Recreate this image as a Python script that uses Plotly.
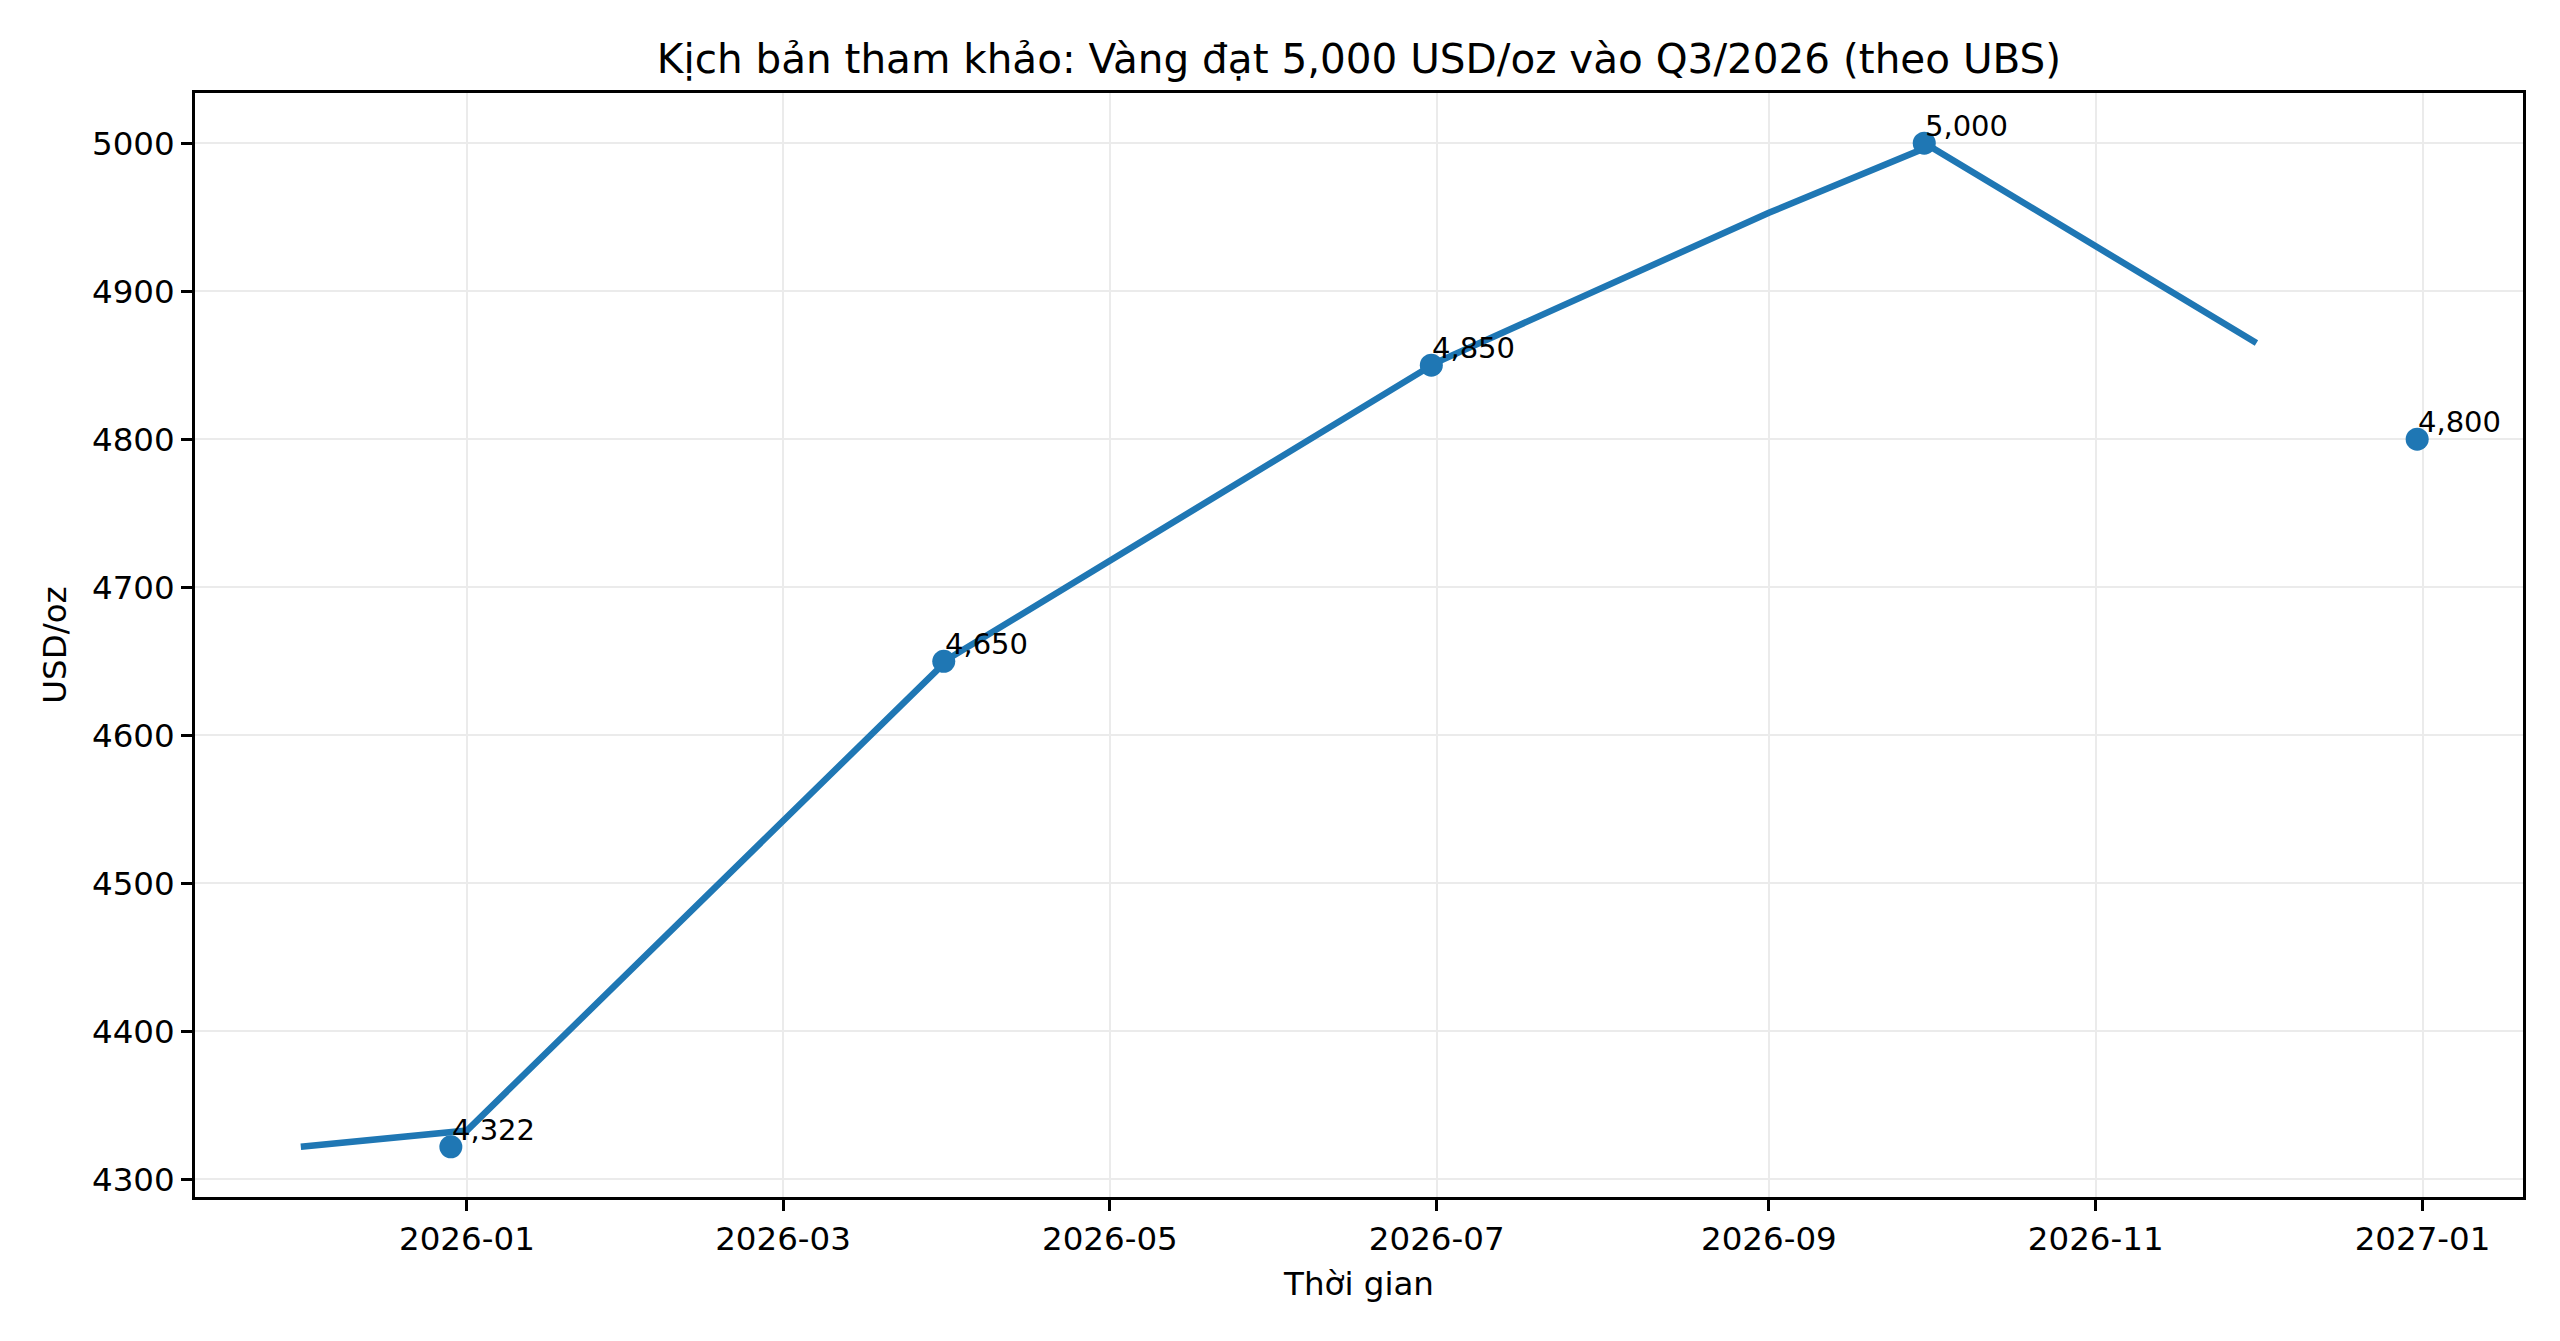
import plotly.graph_objects as go

# duong gia (cac diem gay cua duong, dau thang)
line_dates = ["2025-12-01", "2026-01-01", "2026-04-01", "2026-07-01",
              "2026-09-01", "2026-10-01", "2026-12-01"]
line_vals = [4322, 4333, 4652, 4852, 4953, 4998, 4865]

# cac moc kich ban
pt_dates = ["2025-12-29", "2026-03-31", "2026-06-30", "2026-09-30", "2026-12-31"]
pt_vals = [4322, 4650, 4850, 5000, 4800]
pt_labels = ["4,322", "4,650", "4,850", "5,000", "4,800"]

tick_vals = ["2026-01-01", "2026-03-01", "2026-05-01", "2026-07-01",
             "2026-09-01", "2026-11-01", "2027-01-01"]
tick_text = ["2026-01", "2026-03", "2026-05", "2026-07", "2026-09", "2026-11", "2027-01"]
y_ticks = [4300, 4400, 4500, 4600, 4700, 4800, 4900, 5000]

blue = "#1f77b4"
font = "DejaVu Sans"

fig = go.Figure()
fig.add_trace(go.Scatter(x=line_dates, y=line_vals, mode="lines",
                         line=dict(color=blue, width=6.5), showlegend=False))
fig.add_trace(go.Scatter(x=pt_dates, y=pt_vals, mode="markers",
                         marker=dict(color=blue, size=23), showlegend=False))

for d, v, t in zip(pt_dates, pt_vals, pt_labels):
    fig.add_annotation(x=d, y=v, text=t, showarrow=False, xanchor="left",
                       yanchor="bottom", xshift=-1, yshift=-2,
                       font=dict(family=font, size=29, color="black"))

axis_common = dict(showline=True, linecolor="black", linewidth=2.6, mirror=True,
                   ticks="outside", ticklen=11, tickwidth=2.6, tickcolor="black",
                   showgrid=True, gridcolor="#ebebeb", gridwidth=2.2, zeroline=False,
                   tickfont=dict(family=font, size=32.5, color="black"))

fig.update_xaxes(range=["2025-11-11 06:00", "2027-01-19 18:00"], tickvals=tick_vals,
                 ticktext=tick_text,
                 title=dict(text="Thời gian", standoff=16,
                            font=dict(family=font, size=32.5, color="black")),
                 **axis_common)
fig.update_yaxes(range=[4288.1, 5033.9], tickvals=y_ticks,
                 title=dict(text="USD/oz", standoff=16,
                            font=dict(family=font, size=32.5, color="black")),
                 **axis_common)

# page body has an 8px margin, so everything is shifted by 8px
fig.update_layout(
    width=2560, height=1341,
    margin=dict(l=187, r=45, t=85, b=152),
    plot_bgcolor="white", paper_bgcolor="white",
    title=dict(text="Kịch bản tham khảo: Vàng đạt 5,000 USD/oz vào Q3/2026 (theo UBS)",
               x=0.5, xref="paper", y=1 - 51 / 1341, yref="container", yanchor="middle",
               font=dict(family=font, size=40.5, color="black")),
)

fig.write_html("out.html")
